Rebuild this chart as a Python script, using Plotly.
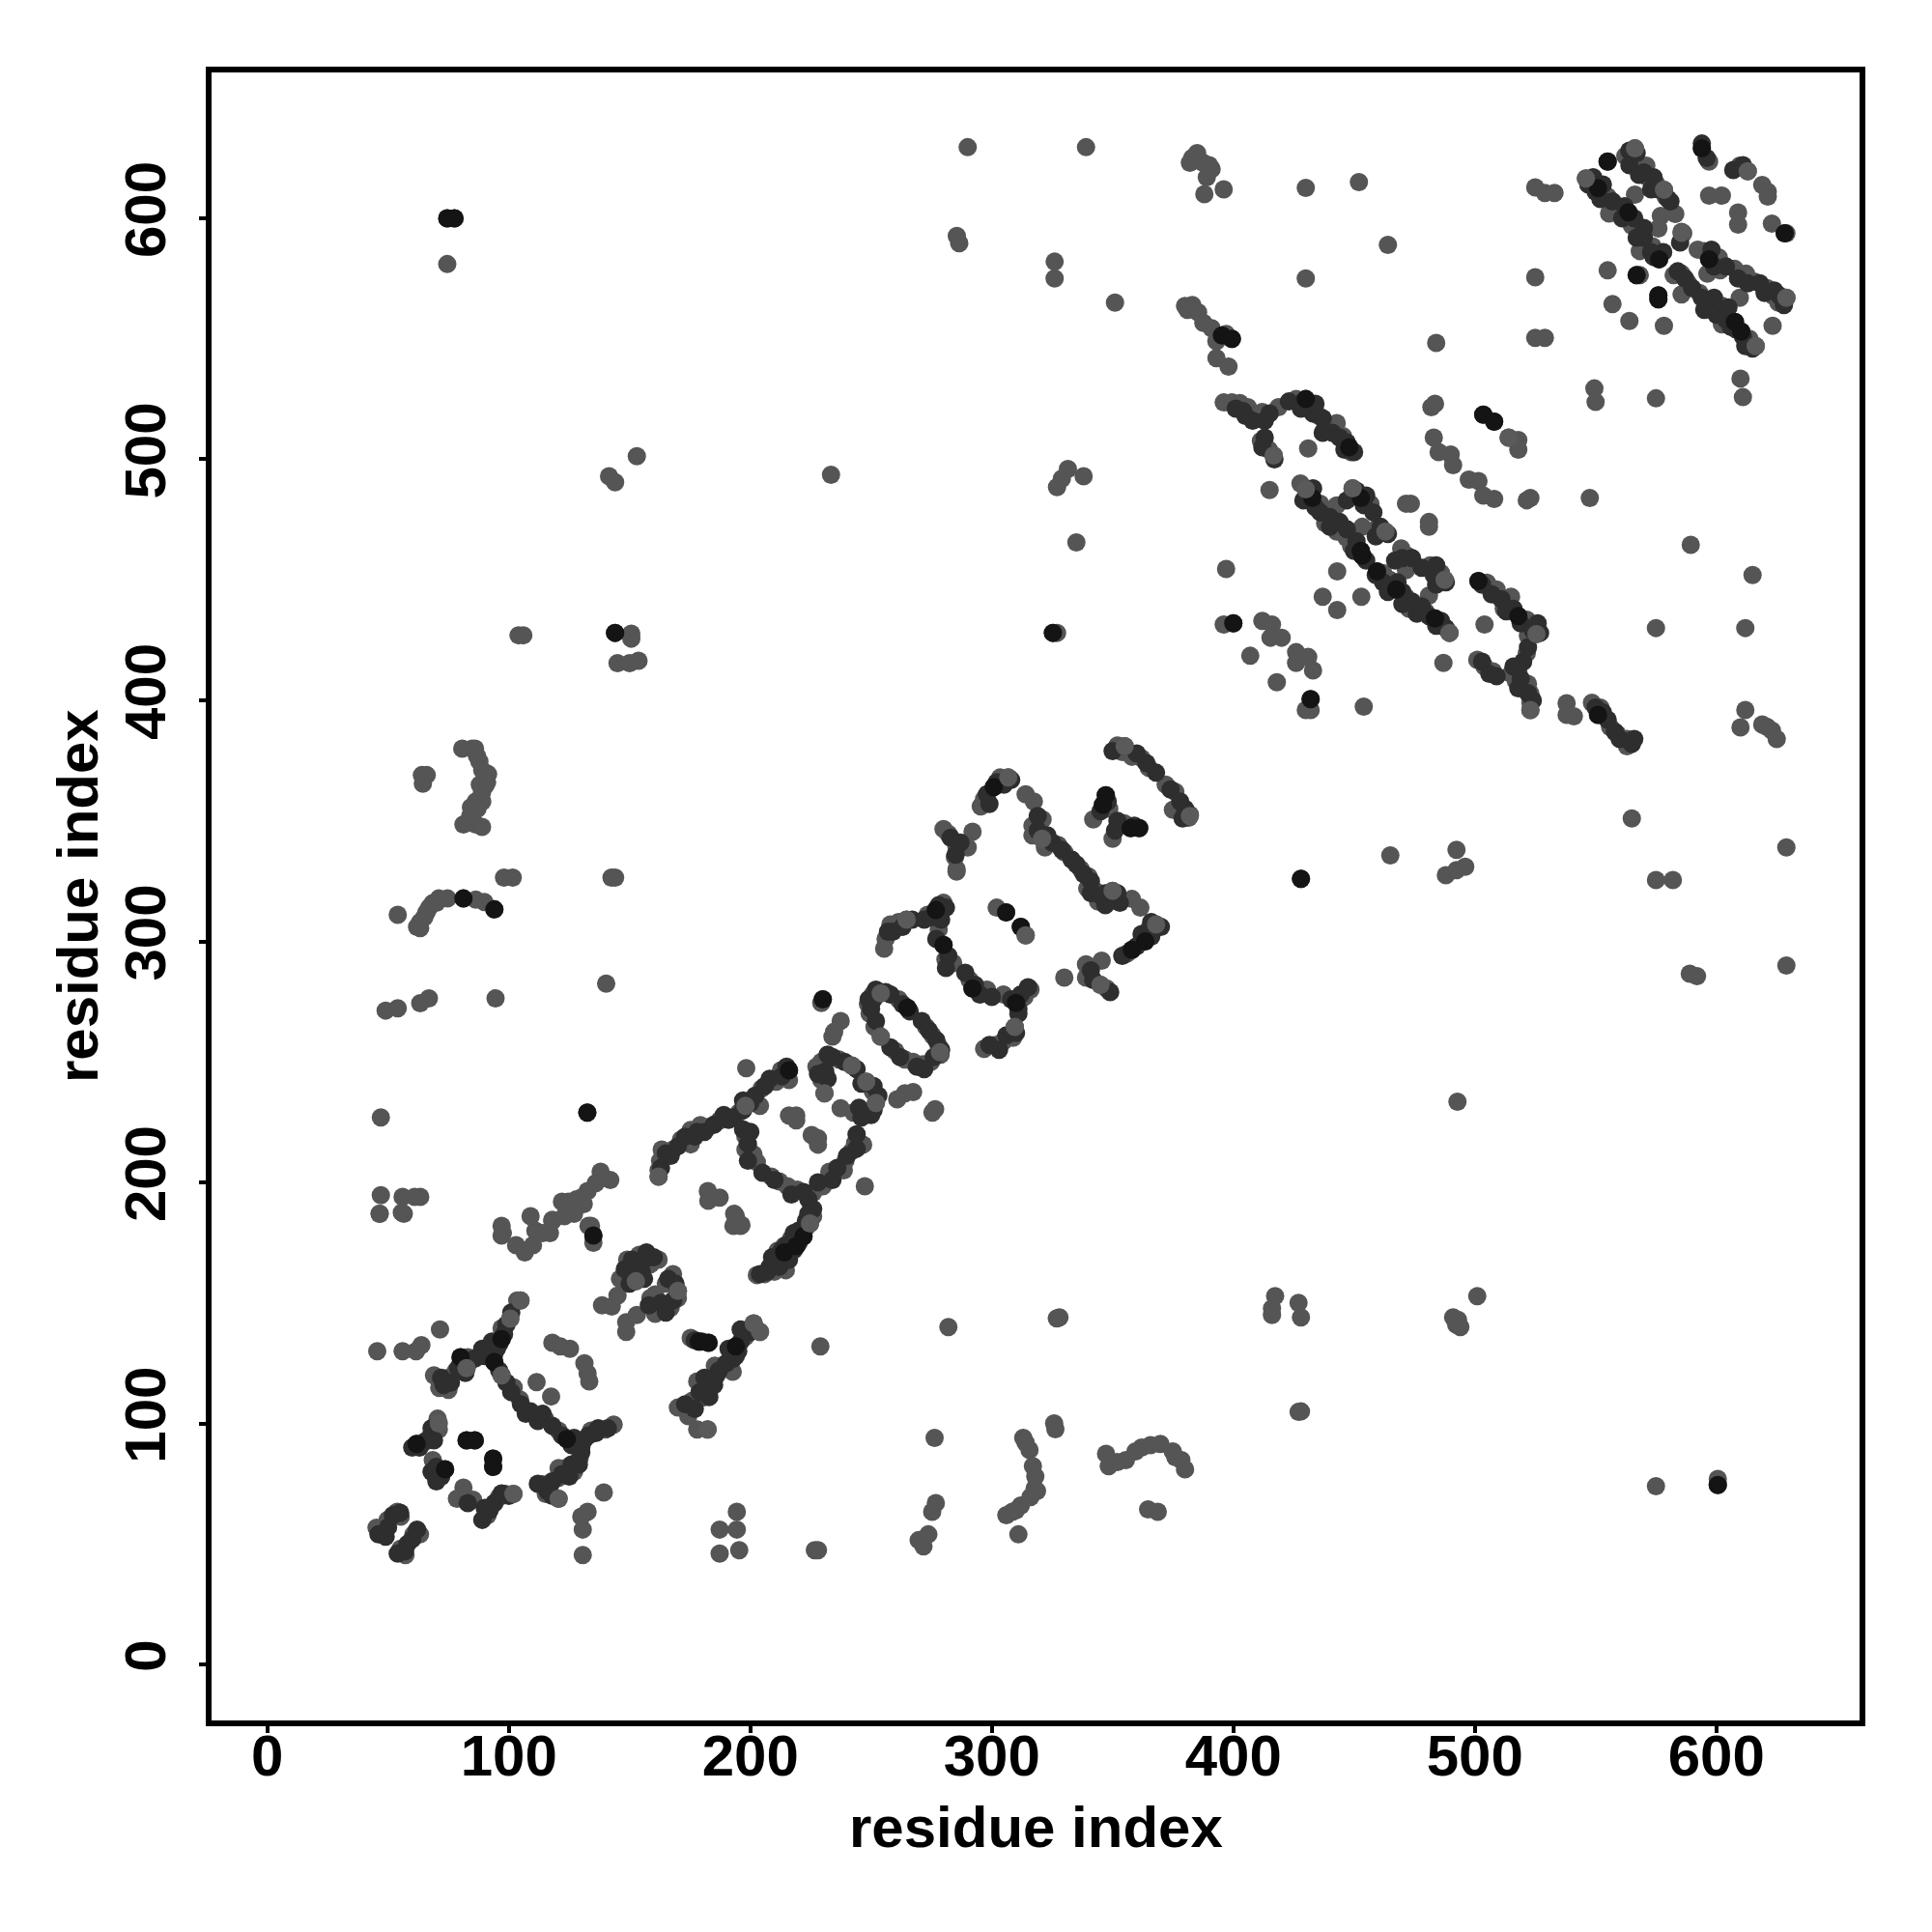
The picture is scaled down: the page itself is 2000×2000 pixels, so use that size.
import plotly.graph_objects as go

tick_values = [0, 100, 200, 300, 400, 500, 600]
axis_label = "residue index"

bottom_left = [(46.5,187),(56.5,187),(97,182),(97,178),(103,174),(106.6,171),(110,174),(111,180),(117,179),(118,184),(123,186),(133,182),(135,178),(135,175),
 (194,186),(196,182),(193,182),(149,168),(154,170),(158.6,166),(162,168),(146,160),(152.6,159),(168,162),(165,158),(170,155),(170,152),(167,148),(160.6,153.5),(158.6,152),(160.6,145.5),(153,145),(145,153),(138.6,149),(142.6,148.5),(148.6,142),(148.6,138),
 (202.7,161.6),(206,162),(210,163),(214.7,163.6),(210,167),(214,171),(216.7,175),(219,173.6),(222,177.6),(224.7,183),(226,186),
 (104.8,151),(103.5,151),(100.6,143.5),(97,139.5),(97,135),(92.5,131),(94,125.5),(97,120),(102,115),(104.6,110),(110.6,103.5),(115,102),(120.6,97),(124,93.5),(128.6,92),(134,97),(140,97.5),(143.4,99.5),(129.3,85.5),(123.3,81.5),(120.6,81.5),(127,80),(120.6,77.5),(114,74.8),(115.3,70.8),(120.6,68.8),(139.3,71.4),(132.6,63.4),(130,61.4),(130.6,56),(130.6,45.4),
 (71.5,139),(45.5,130),(56,130),(61.6,130),(63.8,132.5),(80,127.5),(83,127.5),(88.5,129),(77.9,121.5),(82.5,123),(69,120),(75,119),(75,114),(71.2,114.8),
 (118,133.5),(121.3,132),(125.3,131),(131.3,125),(132.6,120.8),(133.3,117.5),(111.5,117.2),(117.5,111.2),
 (175.3,135.5),(178.7,134),(182.7,133.5),(201.4,141.5),(204,138),(198,136),(194,132),(192,129.5),(192.7,121.5),(185.3,124),(183.3,118.8),(178,117.5),(180.7,110.8),(176,109.5),(170,106.6),(174.3,103),(178,97.5),(182.3,97.5),(229,132),
 (70.5,102),(71,97.5),(67.9,95.5),(61.8,91.5),(64.5,92),(68.5,84.8),(73.6,81),(69.2,78.8),(82.5,93),(85.9,93),(93.5,85.4),(93.5,82),(81.2,73.4),(78.5,68.8),(81.9,68.8),(85.2,68.4),(91.2,62),(92.5,65.4),(95.9,69.4),(101.9,70.8),(98.6,70.8),
 (45.2,56.8),(47.8,54.7),(53.8,63.4),(55.2,61.4),(49.8,60),(63.2,54),(60.5,54),(55.2,48),(57.2,45.4),
 (187.3,56),(194.4,63.4),(194.4,56),(187.3,46),(195.4,47.4),(226.7,47.4),(228,47.4)]

bottom_left_extra = [(99,141),(101,146),(98,137),(96,133),(94,129),(90,128),(86,127),(84,126),(82,121),(79,123),(76,117),(73,116),(72,119),(89,131),(91,129),(95,131),(93,134),
 (96,122),(99,117),(101,113),(105,108),(107,104),(109,105),(112,101),(114,104),(118,99),(122,95),(126,91),(127,94),(130,90),(131,93),(133,95),(136,96),(137,98),(141,98),
 (130,88),(129,83),(126,83),(125,78),(122,79),(118,76),(116,72),(118,70),(112,75),
 (151,168),(156,168),(157,171),(160,169),(148,164),(155,163),(156,160),(150,158),(166,160),(169,158),(168,151),(163,150),(165,146),(158,149),
 (204,162),(208,165),(212,165),(212,169),(216,168),(218,172),(220,175),(221,180),(223,184),(218,178),(215,174),
 (200,138),(196,134),(195,130),(193,127),(190,125),(187,122),(186,120),(181,119),(185,116),(179,113),(183,111),(173,108),(177,106),
 (177,134.5),(180,134),(194,128),(191,131),(196,139),
 (68,98),(69,93),(66,93),(63,90),(60,90),(70,82),(68,80),(72,78),(70,76),(92,64),(94,67),(97,71),(100,70),(90,65),(89,60),(83,67),
 (52,62),(55,63),(46,54),(49,53),(50,57),(58,50),(60,52),(62,56),(57,47),(54,46)]

middle = [(144,326.5),(142.5,326.5),(140.3,282.5),(132.5,229),(285.4,329),
 (255.4,297),(256,301),(258,307),(261.4,308),(264.7,309),(273.4,311),(276.8,313),(280,316),(278,305),(280,298.5),(280.8,292.5),(284,291),(290.8,284),(292,280.5),(298,280),(304.8,278),(310,274.5),(313.5,277),(316,280),
 (309.5,264.5),(308.8,260),(304.8,258.5),(301.5,257),(296.8,255.4),(302,314),(305.9,312),(312,306),(314,302.5),
 (230,276),(229.4,274.5),(237.4,267),(234.7,262.5),(234,260.5),
 (254,278.5),(250.7,278),(248.7,274),(249.4,270),(251.4,264.5),(254,260.5),(261.4,276),(265,272.5),(272.8,264.5),(275.4,261),(278,256.5),(278.8,253),(274.8,250),(271.4,249),(267.4,250),(264,251),(260,254.5),
 (232,251),(229.4,250),(227.4,248),(236.7,251),(242,248.5),(229.4,242.5),(230.7,237),(248,241.8),(250.7,237.8),(252,233),(248,228.4),(242.7,229),(237.4,230.8),
 (260.8,234.5),(264,237),(267.4,237.5),(275.4,229),(276.5,230.4),
 (198.3,247.4),(216,246.5),(212.7,246.5),(216,242.5),(210.7,241.8),(204.7,239),(204,231.8),(198,231.8),(195.3,229),(187.3,225.8),(182.6,223),(179.3,223.8),(175.3,221.8),(175.3,215.8),(171.3,217.8),(168,213.7),(163.3,213.7),(162.6,209),(162,205),(162,202.4),
 (216,227.8),(219,227.8),(219,225.8),(228,218.4),(225.4,219.7),(228,215.7),
 (198,219),(198,213.7),(201.3,211.7),(202.7,208.4),(208.7,202.4),(212,200.4),(215.4,198.4),(219.4,197),(226,195.7),(230,198.4),(232.7,204.4),(238.7,205),(239.4,209),(242,213),(246.7,215.7),(243.4,216.4),(247.4,198.4),
 (182.4,196.4),(187.3,193.7),(182.6,192.4),(193.3,187),(194,183),(196.3,182.4),
 (225.4,186.4),(223.4,181.7),(222,177.7),(216.7,176.4),(214,173.7),(211.3,171.7),
 (138,204.4),(142,201),(136,199.7),(132.6,196.4),(130,193.7),(131,191),(134,182),(124.6,192),(122,192),(109,186),(114,179),(118,184.5),(97.5,179),(106.7,171.7),(127,187),(128,193)]

middle_extra = [(165,212),(163,206),(167,211),(170,215),(173,219),(177,219),(178,221),(181,221),(185,224),(189,228),(191,226),(193,227),(197,230),(197,234),(200,233),(202,236),(206,240),(208,243),(213,244),(215,248),
 (199,216),(200,221),(197,222),(199,209),(205,204),(210,201),(217,195),(222,196),(224,193),(228,200),(234,201),(236,206),(240,211),(244,214),(244,220),
 (226,189),(224,187),(220,180),(218,179),(213,172),(209,169),(207,163),(211,166),
 (231,246),(232,243),(228,245),(232,253),(234,252),(239,250),(244,247),(246,241),(251,240),(253,236),(251,230),(250,228),(246,227),(245,231),
 (251,276),(252,280),(249,276),(250,272),(252,267),(256,279),(258,278),(263,274),(266,271),(271,267),(274,263),(277,259),(279,255),(276,252),(272,247),(269,248),(262,252),(258,256),
 (259,304),(257,304),(263,306),(267,309),(272,309),(275,310),(278,315),(281,314),(279,309),(277,301),(282,294),(281,289),(289,287),(293,282),(295,278),(300,277),(308,276),(311,272),(312,278),(315,281),(311,270),(310,262),(306,261),(303,255),(299,257)]

upper_middle = [(352,381.3),(354,378.6),(358,376.6),(362,376),(365,372),(372,365),(376,362),(375,354.6),(382,352.6),(381.5,351.3),
 (347.2,360.6),(346,356.6),(348.6,355),(342,350.6),(354.8,349),(357.5,347),(361,347),(350,342.6),
 (292,345.5),(280,346.6),(282,344.6),(290,339),(285.4,339),(284.7,335),(285.4,330),
 (306.8,368),(303.4,368),(300.8,364),(296.8,359),(295.4,356),(314,361),(317.4,358),
 (321,350.6),(316.8,348),(316.8,344),(320.8,342.6),(322,339),(327.5,340),(330,337),(336.8,330),(340,327),(339.5,322),(342.8,321),(344,316.5),(348,318),(350,321),(358,317.6),(361.5,314),
 (368,307),(365,305),(363.5,300),(358,296.5),(356,295),
 (330,285),(339,290.5),(345.5,292),(339,285),(345,282),(347.5,280.5)]

upper_middle_extra = [(298,361),(299,357),(302,366),(305,365),(308,367),(350,379),(355,381),(360,378),(364,374),(368,370),(374,363),(378,358),(380,355),(379,351),(348,358),(345,354),(352,350),(359,348),(351,346),
 (319,346),(319,352),(323,344),(325,341),(329,338),(333,334),(335,332),(338,328),(341,325),(341,320),(345,319),(347,315),(353,316),(352,320),(347,320),(366,308),(370,306),(362,303),(360,298),(366,302),(354,294),
 (283,343),(287,341),(285,336),(341,288),(342,284),(349,279)]

central_band = [(396,523.6),(399.4,523.6),(402.7,523.3),(406,521.6),(410,518.3),(412,519.6),(418.7,521.6),(426,525),(430,525),(432.7,521.6),(435.4,518),(438,513),(442.8,515),(445.4,509.6),(448,505),(448.8,503),
 (411.4,507.6),(414.7,504),(416.7,501.6),(431,504.5),
 (415,487.3),(427.8,490),(430,487.6),(432.7,484),(436,481.6),(438,473.5),(442.8,480.9),(449.4,488),(452.8,484),(456.8,481.5),(453.4,472),(462,470),(459.5,471.5),(442.8,470),(446.8,467.5),(448.8,464),(453.4,460),(452.8,462),(473.5,481.6),(471.5,481.6),(481,474),(481,472),
 (469.5,463),(472,460),(459.5,453.5),(462,452.8),(464.8,450),(467.5,446),(471.5,442.8),(472.8,438),(471.5,454),(481.5,456),(486,452.8),(487.5,450),(481,443.5),(479.5,437),(483.5,434),(487,430.8),(489.5,428),
 (443,453.5),(437,443),(453,443),(443,437.5),(397,454.5),
 (396,431.5),(400,432),(412,433),(416,431.5),(415.4,426),(420,426),(407,418.5),(426,420),(426,415.5),(431,418),(433,412.4),(418,407.5),(432,400.5),(430,396),(432,396),(454,397.4),
 (501.5,449.5),(505,448.8),(509,446),(515,443),(512,438),(518,435),(521.5,433.5),(523.5,430.8),(525.5,427.5),(522,426.8),(504,431.5),(521.5,419.5),(501,416.8),(504,414),(507.5,412),(518,412),(515,411),(517,408),(522,406.8),(523,402.8),(523,399),(523,396),(487,415.5),
 (483.5,523),(482,521.6),(483,509),(485,503),(490,502),(491,497.6),(497.5,491.6),(501.5,491),(503.5,485),(508,483.6),(521.5,483),(523,484),(547.6,484),(503.5,518.5),(508,515.6),(514,509),(518,508),(518,504),
 (538,398.8),(538,394),(541,393.4),(548.5,399),(551,394),(556,389),(563,384),(563,381),(552,397),(559,386)]

central_extra = [(429,524),(433,519),(434,523),(437,517),(437,511),(441,511),(444,509),(446,504),(447,507),(450,503),(401,521),(404,520),(408,516),(405,518),(413,516),(415,519),(423,524),(428,521),(413,509),(412,505),(417,500),
 (429,483),(431,483),(434,480),(433,488),(436,478),(440,476),(440,472),(444,474),(447,471),(451,466),(450,462),(455,458),(451,487),(454,481),(458,478),(455,485),(447,483),(459,468),(461,472),(464,469),
 (462,449),(465,447),(468,449),(470,445),(470,440),(474,441),(476,436),(478,439),(481,435),(484,431),(486,433),(488,430),(474,459),(478,455),(484,456),(488,449),(484,448),(483,452),(467,458),(470,459),(459,452),(464,445),
 (503,448),(507,444),(511,442),(513,437),(516,438),(519,432),(524,429),(527,428),(526,432),(520,416),(522,422),(516,414),(519,409),(522,403),(524,400),(503,416),(506,411),(509,410),(518,405),
 (550,397),(553,395),(555,392),(558,387),(560,384),(565,382),(566,384)]

top_right = [(525,612.8),(529,610.5),(533,610.5),(525,575.5),(525,550.4),(529,550.4),
 (566.3,629),(562.3,625.8),(555,623.5),(565,624),(567.6,621.8),(571,621.8),(571.6,617),(575,614.5),(578.3,611.8),(579,609),(566.3,609.8),(583,601.8),(577,601),(576,595.8),(585.6,594.4),(586.3,593.8),
 (546,616.5),(548,614.5),(551,612.5),(555,609),(555.6,602),(559.6,604.5),(563.6,602.5),(565,597),(568.3,594.4),(568.3,586.4),(573.6,588.4),(576.3,583),
 (594,629),(597,623.5),(609.7,621.8),(613,619.5),(619,613.8),(621.3,611),(621.3,609),(597,609.4),(602.3,609.4),(609,602.4),(609,597.4),(623,597.8),(628.3,593.8),(629,593.8),
 (555,578.4),(567,576.4),(568.3,576.4),(576,568),(576,566.4),(557,564.4),(564,557.4),(578.3,555.4),(623.3,555.4),
 (582.3,576.4),(585.6,577),(588.3,573),(585.6,568.4),(592.3,587),(595,586.4),(597,583),(601,583.8),(596.3,577),(601.6,578.4),(607.6,579),(612.3,577),(615.7,573.7),(621,571),(623.7,567.7),(625.7,565),(629,567),(609.7,567),
 (593,569),(597,564.4),(602.3,563.7),(603.6,561),(607.7,557),(610.3,553),(613.7,550),(616.3,547),(602.3,556)]

top_right_extra = [(547,614),(549,617),(550,611),(552,608),(553,614),(557,607),(561,600),(562,605),(566,600),(567,592),(570,592),(570,596),(564,628),(567,627),(564,622),(568,618),(570,619),(573,612),(574,617),(576,612),(580,608),(581,607),(585,590),(574,584),(578,586),(573,586),
 (596,625),(594,631),(607,620),(611,622),
 (584,578),(587,575),(590,571),(594,567),(595,562),(599,567),(600,560),(604,558),(606,555),(608,554),(611,551),(612,547),(615,546),(605,563),(598,587),(604,580),(609,575),(613,573),(618,573),(620,569),(624,570),(628,564),(626,568),(599,580)]

scattered_upper = [(290,629.5),(339,629.5),(383,625),(387.5,623),(391,620.4),(388,610),(396,612),(430,612.6),(452,615),(430,575),(464,589),(351,565),(326,582),(326,575),(285.5,592.7),(286.5,589.7),(74.5,600),(77.5,600),(74.5,581),
 (383,564),(380,563.6),(385.4,561),(387.6,556.6),(391,554.4),(395.3,551.4),(399.4,550),(393,542),(398,538.5),
 (549.5,529.4),(550,523.8),(575,525.3),(610,533.5),(611,525.8),(484,548.3),
 (141.5,493),(144,490.5),(153,501.3),(233.4,493.6),(327,488.5),(329,492),(331.5,496),(338,493),(335,465.5),(325.3,428),(327,428),
 (104,427),(106,427),(144,428),(150.7,427.7),(150.7,425.6),(145,415.4),(150,415.4),(153.7,416.4),
 (47,227),(47,194.7),(46.5,187),(55.7,187.5),(56,194),(63.3,194),(61,194),
 (64,369),(66,369),(64.4,365.4),(80.7,380),(84.8,380),(86.8,377),(87.8,374.7),(91.4,369.4),(90.4,364.8),(88.9,361.8),(86.3,358),(84.3,355.6),(81.2,348.5),(86.3,348.5),(88.9,347.5),
 (54,311),(63.3,308),(63.3,305.5),(65.9,312),(68.4,315.8),(71,317.8),(74.6,317.8),(81.2,317.8),(86.3,317.3),(89.9,316.3),(94,313.3),(98,326.5),(101.6,326.5),
 (49,271.3),(54,272.3),(63.3,274.4),(66.9,276.4),(94.5,276.4),
 (385,627),(382,623),(390,622),(389,617),(381,562),(393,549),(397,552),
 (88,365),(91,366),(89,358),(87,355),(84,352),(65,310),(67,314),(62,306),(70,316),(86,380),(89,371)]

scattered_lower = [(326.9,143.6),(325.8,100),(326.3,97.6),(282,140),(276.3,94),(275.3,63.4),(276.8,67),(269.7,51.6),(273.7,54),(271.7,49),
 (313,94),(315.6,89),(317,82.3),(317.7,73),(316,69.5),(312,66),(308.5,63.4),(306,62),(311,54),(318.7,72),
 (347.3,87.4),(348.4,82.3),(355.5,84.8),(359.5,88.4),(365.7,91),(369.8,91.5),(374.9,88.4),(378.5,84.8),(380,81),(364.7,64.4),(368.7,63.4),
 (416,147.7),(417.3,152.8),(416,145),(427,150),(428,144),(427,104.8),(491,144),(492.3,141),(501,152.8),(575,74),(600.6,77),(600.6,74.5),
 (492.8,233.5),(465,335.7),(428,326),(488,327.5),(492.4,329.6),(496,331),(492.4,338),(565,351),(575,325.5),(582,325.5),(629,339),(629,290),(589,286.6),(592,285.6),
 (589.4,464.5),(615,452),(612,430),(575,430),(610,388.8),(612,396),(619,390),(621,389),(623,387.5),(625,384),
 (328,144),(493,143),(494,140),(428,105),(310,64),(314,92),(318,78),(352,84),(362,90),(376,86)]

# contacts whose dots read near black in the picture
dark_contacts = [(82.5,93),(85.9,93),(93.5,85.4),(93.5,82),(73.6,81),(61.8,91.5),(124,93.5),(97,135),(94,125.5),(135,178),
 (178.7,134),(182.7,133.5),(194,132),(80,127.5),(214,171),(219,173.6),(222,177.7),
 (305.9,312),(312,306),(276.8,313),(280,298.5),(292,280.5),(310,274.5),(265,272.5),(230,276),(216,246.5),
 (347.2,360.6),(346,356.6),(357.5,347),(361,347),(300.8,364),(363.5,300),(358,296.5),
 (432.7,484),(453.4,460),(452.8,462),(459.5,453.5),(467.5,446),(483.5,434),(452.8,484),(501.5,449.5),(518,435),(400,432),(432,400.5),(503.5,518.5),(508,515.6),(430,525),(448,505),
 (551,612.5),(563.6,602.5),(576.3,583),(576,568),(576,566.4),(594,629),(567,576.4),(597,583),(607.7,557),(610.3,553),(628.3,593.8),(555,623.5),(551,394),(395.3,551.4),(399.4,550),(600.6,74.5),(74.5,600),(77.5,600),(428,326),(81.2,317.8),(94,313.3),(325.3,428),(144,428),(132.5,229)]

# lighter dots that sit on top of the chains
light_top_contacts = [(104.8,151),(100.6,143.5),(97,120),(82.5,123),(71,100),(101.9,70.8),(201.4,141.5),(204,138),(182.3,97.5),(120.6,68.8),
 (254,278.5),(278.5,254),(254,260.5),(252,233),(230.7,237),(309.5,264.5),(264.7,309),(314,302.5),(306.8,368),(382,352),(368,307),(350,321),(345,282),
 (489.5,428),(487.5,450),(525.5,427.5),(523,396),(416.7,501.6),(449.4,488),(566.3,629),(578.3,611.8),(585.6,594),(629,567),(616.3,547),(546,616.5),(613,619.5),
 (162,202.4),(224.7,183),(170,155),(152.6,159),(198,231.8),(242,248.5),(248,241.8),(320.8,342.6),(430,487.6),(463,470),(514,509),(355,381)]

# groups in drawing order with the grey each one reads as
under_contacts = bottom_left_extra + middle_extra + upper_middle_extra + central_extra + top_right_extra
base_contacts = bottom_left + middle + upper_middle + central_band + top_right + scattered_upper + scattered_lower
groups = [(base_contacts, "#555555"), (under_contacts, "#2e2e2e"), (dark_contacts, "#141414"), (light_top_contacts, "#5a5a5a")]

fig = go.Figure()
for pts, shade in groups:
    fig.add_trace(go.Scatter(
        x=[p[0] for p in pts], y=[p[1] for p in pts], mode="markers",
        marker=dict(size=19, color=shade, line=dict(width=0)),
        hoverinfo="skip", showlegend=False))

tick_font = dict(family="Liberation Sans", size=60, color="black", weight="bold")
title_font = dict(family="Liberation Sans", size=60, color="black", weight="bold")
axis_common = dict(
    tickvals=tick_values, ticktext=[str(v) for v in tick_values],
    ticks="outside", ticklen=9, tickwidth=3.5, tickcolor="black",
    showgrid=False, zeroline=False, showline=False,
    tickfont=tick_font)

fig.update_xaxes(range=[-24.3, 660.5], ticklabelstandoff=-28, **axis_common)
fig.update_yaxes(range=[-24.4, 661.7], tickangle=-90, ticklabelstandoff=11, **axis_common)

fig.add_shape(type="rect", xref="paper", yref="paper", x0=0, x1=1, y0=0, y1=1,
              line=dict(color="black", width=6), fillcolor="rgba(0,0,0,0)", layer="above")

fig.add_annotation(text=axis_label, xref="paper", yref="paper", x=0.5, y=-0.0628,
                   xanchor="center", yanchor="middle", showarrow=False, font=title_font)
fig.add_annotation(text=axis_label, xref="paper", yref="paper", x=-0.0794, y=0.5,
                   xanchor="center", yanchor="middle", textangle=-90, showarrow=False, font=title_font)

fig.update_layout(width=2000, height=2000, autosize=False,
                  margin=dict(l=208, r=80, t=64, b=224, autoexpand=False),
                  paper_bgcolor="white", plot_bgcolor="white")

fig.write_html("out.html")
